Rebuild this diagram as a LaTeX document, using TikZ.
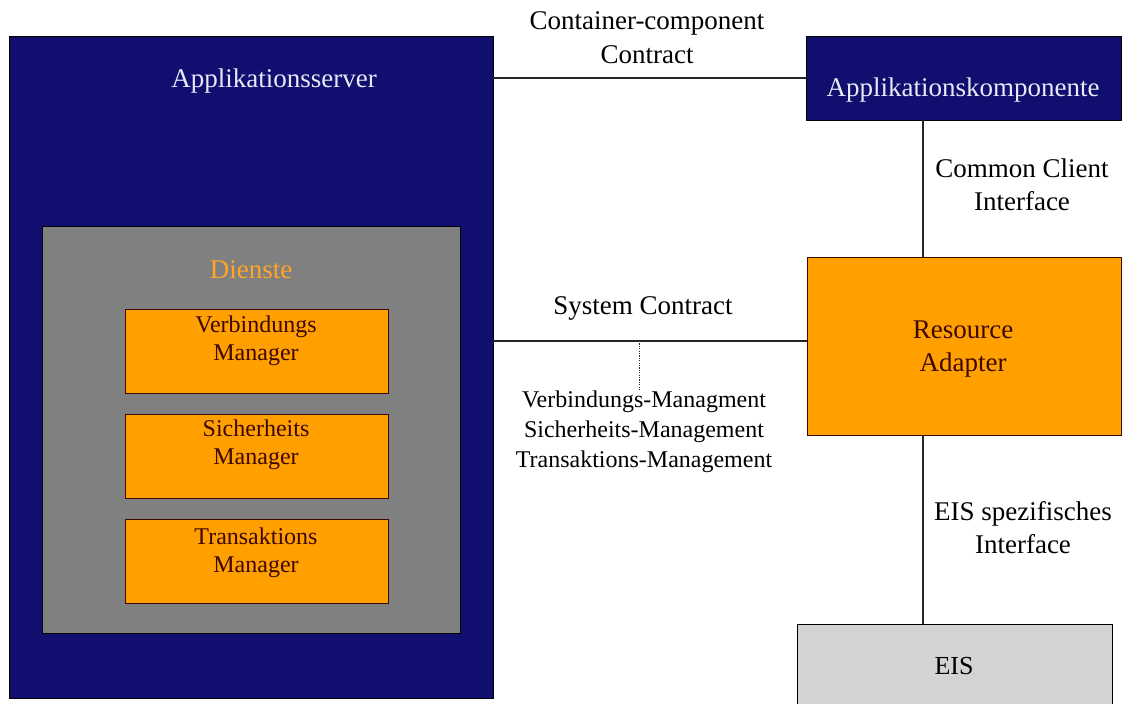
\documentclass[tikz,border=0pt]{standalone}
\usepackage{fontspec}
\setmainfont{Liberation Serif}
\definecolor{navy}{RGB}{16,14,110}
\definecolor{orangebox}{RGB}{255,160,0}
\definecolor{greybox}{RGB}{128,128,128}
\definecolor{eisgrey}{RGB}{211,211,211}
\definecolor{darkbrown}{RGB}{60,8,0}
\definecolor{paletext}{RGB}{232,232,248}
\definecolor{diensttext}{RGB}{255,165,40}
\tikzset{
  frame/.style={draw=black, line width=1pt, inner sep=0pt, outer sep=0pt, anchor=north west},
  navybox/.style={frame, fill=navy},
  servicebox/.style={frame, fill=greybox},
  managerbox/.style={frame, draw=darkbrown, fill=orangebox},
  eisbox/.style={frame, fill=eisgrey},
  label/.style={inner sep=0pt, anchor=base, align=center, font=\fontsize{27}{33}\selectfont},
  smalllabel/.style={label, font=\fontsize{24}{30}\selectfont},
  managertext/.style={label, text=darkbrown, font=\fontsize{24}{28}\selectfont},
  link/.style={draw=black!85, line width=1.2pt},
  hint/.style={draw=black!85, line width=1pt, dash pattern=on 1.2pt off 1.2pt}
}
\begin{document}
\begin{tikzpicture}[x=1pt, y=-1pt]
\useasboundingbox (0,0) rectangle (1125,704);

% application server with its services
\node[navybox, minimum width=484pt, minimum height=662pt] (server) at (9,36) {};
\node[label, text=paletext] (servertitle) at (274,87) {Applikationsserver};
\node[servicebox, minimum width=418pt, minimum height=407pt] (services) at (42,226) {};
\node[label, text=diensttext] (servicestitle) at (251,278) {Dienste};

% (a multi-line label sits on the baseline of its last line)
\node[managerbox, minimum width=263pt, minimum height=84pt] (conn) at (125,309) {};
\node[managertext] (conntext) at (256,360) {Verbindungs\\Manager};
\node[managerbox, minimum width=263pt, minimum height=84pt] (sec) at (125,414) {};
\node[managertext] (sectext) at (256,464) {Sicherheits\\Manager};
\node[managerbox, minimum width=263pt, minimum height=84pt] (trans) at (125,519) {};
\node[managertext] (transtext) at (256,572) {Transaktions\\Manager};

% application component
\node[navybox, minimum width=315pt, minimum height=84pt] (appcomp) at (806,36) {};
\node[label, text=paletext] (appcomptext) at (963,96) {Applikationskomponente};

% resource adapter
\node[managerbox, minimum width=314pt, minimum height=178pt] (adapter) at (807,257) {};
\node[label, text=darkbrown] (adaptertext) at (963,371) {Resource\\Adapter};

% enterprise information system
\node[eisbox, minimum width=315pt, minimum height=110pt] (eis) at (797,624) {};
\node[label, font=\fontsize{26}{32}\selectfont] (eistext) at (954,674) {EIS};

% contracts between the parts
\coordinate (cctop) at (493,78);
\draw[link] (server.east |- cctop) -- (appcomp.west |- cctop);
\node[label] (cclabel) at (647,63) {Container-component\\Contract};

\coordinate (sctop) at (493,341);
\draw[link] (server.east |- sctop) -- (adapter.west |- sctop);
\node[label] (sclabel) at (643,314) {System Contract};

\coordinate (hintstart) at (639,341);
\coordinate (hintend) at (639,390);
\draw[hint] (hintstart) -- (hintend);
\node[smalllabel] (mgmt) at (644,467) {Verbindungs-Managment\\Sicherheits-Management\\Transaktions-Management};

\coordinate (cci) at (923,120);
\draw[link] (appcomp.south -| cci) -- (adapter.north -| cci);
\node[label] (ccilabel) at (1022,210) {Common Client\\Interface};

\draw[link] (adapter.south -| cci) -- (eis.north -| cci);
\node[label] (eisif) at (1023,553) {EIS spezifisches\\Interface};
\end{tikzpicture}
\end{document}
